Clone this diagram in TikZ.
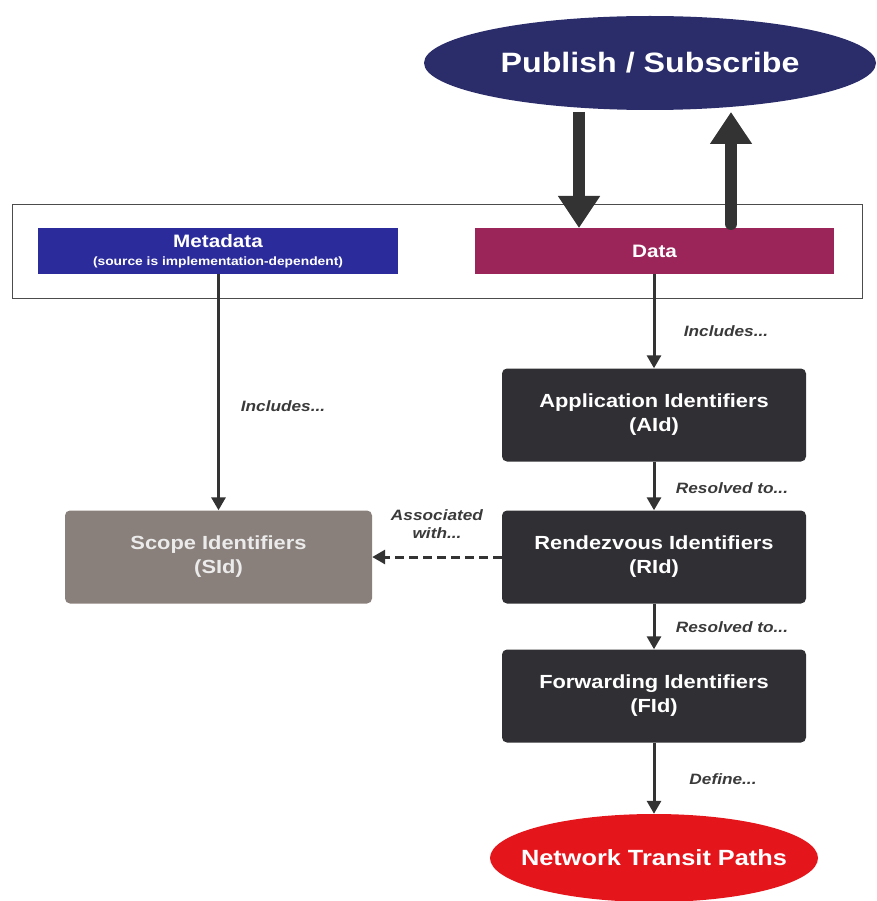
\documentclass[tikz,border=0pt]{standalone}
\usepackage{fontspec}
\setmainfont[FakeStretch=1.15]{Liberation Sans}
\usetikzlibrary{shapes.geometric,arrows.meta}
\definecolor{navy}{HTML}{2B2D6B}
\definecolor{metablue}{HTML}{2B2B9C}
\definecolor{datared}{HTML}{9B2458}
\definecolor{idbox}{HTML}{2F2F34}
\definecolor{scopegray}{HTML}{8A807B}
\definecolor{pathred}{HTML}{E5151C}
\definecolor{lbl}{HTML}{3A3A3A}
\definecolor{arr}{HTML}{333333}
\tikzset{
  idnode/.style={draw=none, fill=idbox, rounded corners=5pt, minimum width=304pt, minimum height=93pt, text=white, font=\bfseries\fontsize{19}{24}\selectfont, align=center, inner sep=0pt},
  bar/.style={draw=none, minimum height=46pt, inner sep=0pt, text=white, align=center},
  conn/.style={draw=arr, line width=3pt, -{Triangle[width=14pt,length=13pt]}},
  bigconn/.style={draw=arr, line width=12pt, -{Triangle[width=40pt,length=32pt]}},
  lab/.style={text=lbl, font=\bfseries\itshape\fontsize{15}{17}\selectfont, align=center, inner sep=0pt},
}
\begin{document}
\begin{tikzpicture}[x=1pt,y=-1pt]
\useasboundingbox (0,0) rectangle (876,901);
% publish / subscribe
\node[ellipse, fill=navy, minimum width=452pt, minimum height=94pt, inner sep=0pt, text=white, font=\bfseries\fontsize{28}{32}\selectfont] (ps) at (650,63) {Publish / Subscribe};
% outer frame
\node[draw=black!70, line width=0.8pt, minimum width=850pt, minimum height=94pt, inner sep=0pt] (frame) at (437,251) {};
\node[bar, fill=metablue, minimum width=360pt] (meta) at (218,251) {{\bfseries\fontsize{18}{19}\selectfont Metadata}\\[6pt]{\bfseries\fontsize{12}{13}\selectfont (source is implementation-dependent)}};
\node[bar, fill=datared, minimum width=359pt, font=\bfseries\fontsize{18}{20}\selectfont] (data) at (654.5,251) {Data};
% arrows between pub/sub and data
\coordinate (d1) at (579,112);
\coordinate (d2) at (579,228);
\coordinate (u1) at (731,224);
\coordinate (u2) at (731,112);
\draw[bigconn] (d1) -- (d2);
\draw[bigconn, line cap=round] (u1) -- (u2);
% identifier boxes
\node[idnode] (aid) at (654,415) {Application Identifiers\\(AId)};
\node[idnode] (rid) at (654,557) {Rendezvous Identifiers\\(RId)};
\node[idnode] (fid) at (654,696) {Forwarding Identifiers\\(FId)};
\node[idnode, fill=scopegray, minimum width=307pt, text=white!92!black] (sid) at (218.5,557) {Scope Identifiers\\(SId)};
% network transit paths
\node[ellipse, fill=pathred, minimum width=328pt, minimum height=88pt, inner ysep=0pt, inner xsep=-18pt, text=white, font=\bfseries\fontsize{22}{26}\selectfont] (ntp) at (654,858) {Network Transit Paths};
% connectors
\draw[conn] (meta.south -| sid.north) -- (sid.north);
\draw[conn] (data.south -| aid.north) -- (aid.north);
\draw[conn] (aid) -- (rid);
\draw[conn] (rid) -- (fid);
\draw[conn] (fid) -- (ntp);
\draw[conn, dashed, dash pattern=on 9pt off 5pt] (rid.west) -- (sid.east);
% labels
\node[lab] (l1) at (283,406) {Includes...};
\node[lab] (l2) at (726,331) {Includes...};
\node[lab] (l3) at (732,488) {Resolved to...};
\node[lab] (l4) at (732,627) {Resolved to...};
\node[lab] (l5) at (723,779) {Define...};
\node[lab] (l6) at (437,524) {Associated\\[1pt]with...};
\end{tikzpicture}
\end{document}
